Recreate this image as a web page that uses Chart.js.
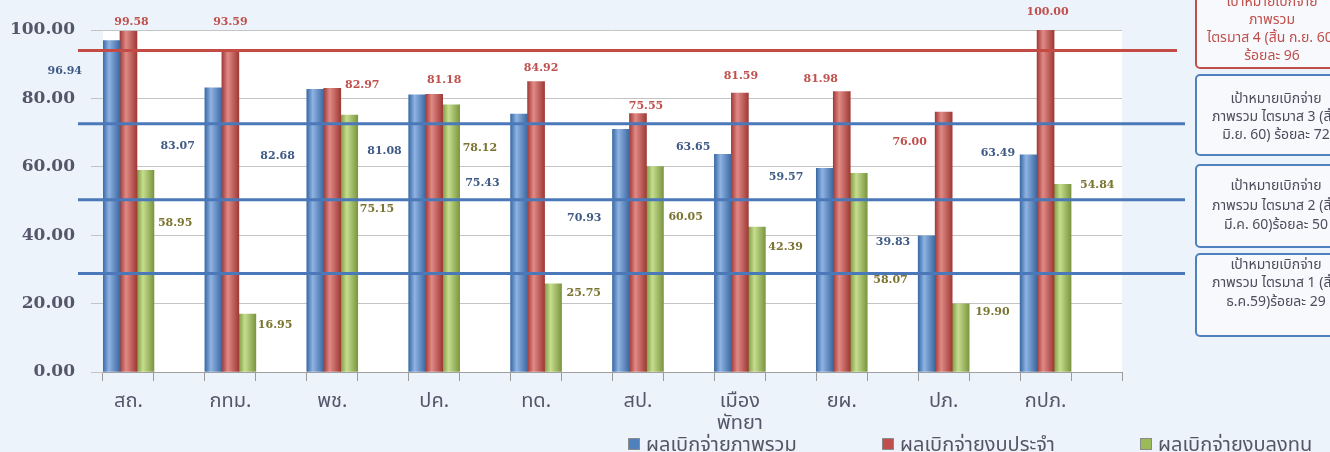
<!DOCTYPE html>
<html>
<head>
<meta charset="utf-8">
<script src="https://cdn.jsdelivr.net/npm/chart.js@4/dist/chart.umd.min.js"></script>
<style>
  html, body { margin: 0; padding: 0; background: #edf3fa; }
  #wrap { width: 1330px; height: 452px; }
</style>
</head>
<body>
<div id="wrap"><canvas id="chart" width="1330" height="452"></canvas></div>
<script>
const categories = ['สถ.', 'กทม.', 'พช.', 'ปค.', 'ทด.', 'สป.', ['เมือง', 'พัทยา'], 'ยผ.', 'ปภ.', 'กปภ.'];
const overallValues = [96.94, 83.07, 82.68, 81.08, 75.43, 70.93, 63.65, 59.57, 39.83, 63.49];
const regularValues = [99.58, 93.59, 82.97, 81.18, 84.92, 75.55, 81.59, 81.98, 76.00, 100.00];
const investValues = [58.95, 16.95, 75.15, 78.12, 25.75, 60.05, 42.39, 58.07, 19.90, 54.84];
const seriesNames = ['ผลเบิกจ่ายภาพรวม', 'ผลเบิกจ่ายงบประจำ', 'ผลเบิกจ่ายงบลงทุน'];
const targetValues = [94.0, 72.6, 50.4, 28.8];
const targetNotes = [
  ['เป้าหมายเบิกจ่าย', 'ภาพรวม', 'ไตรมาส 4 (สิ้น ก.ย. 60)', 'ร้อยละ 96'],
  ['เป้าหมายเบิกจ่าย', 'ภาพรวม ไตรมาส 3 (สิ้น', 'มิ.ย. 60) ร้อยละ 72'],
  ['เป้าหมายเบิกจ่าย', 'ภาพรวม ไตรมาส 2 (สิ้น', 'มี.ค. 60)ร้อยละ 50'],
  ['เป้าหมายเบิกจ่าย', 'ภาพรวม ไตรมาส 1 (สิ้น', 'ธ.ค.59)ร้อยละ 29']
];

const colors = ['#4f81bd', '#c0504d', '#9bbb59'];
const labelColors = ['#3f5a85', '#c0504d', '#7a7430'];
const thaiFont = "'Noto Sans Thai', 'Tahoma', 'DejaVu Sans', sans-serif";
const numFont = "'DejaVu Serif', 'Liberation Serif', serif";

// where the value labels sit next to their bars (scan has them moved around by hand)
const labelShift = [
  { dx: [-21, -10, -12, -7, -11, -11, -4, -13, -8, -5], dy: [31, 58, 67, 56, 69, 89, -7, 9, 6, -2] },
  { dx: [3, 0, 30, 10, 5, 8, 1, -21, -34, 2], dy: [-9, -30, -3, -14, -13, -7, -17, -12, 30, -18] },
  { dx: [4, 2, 2, 3, 5, 5, 3, 6, 6, 9], dy: [53, 11, 94, 43, 9, 51, 20, 107, 8, 1] }
];

// every category is followed by an empty slot, like the original sheet
const slotLabels = categories.flatMap(c => [c, '']);
const spread = arr => arr.flatMap(v => [v, null]);

function barFill(i) {
  return (ctx) => {
    const xs = ctx.chart.scales.x;
    if (!xs || !ctx.chart.chartArea || ctx.type !== 'data') return colors[i];
    const band = xs.getPixelForValue(1) - xs.getPixelForValue(0);
    const left = xs.getPixelForValue(ctx.dataIndex) - band / 2 + i * band / 3;
    const g = ctx.chart.ctx.createLinearGradient(left, 0, left + band / 3, 0);
    const shades = [
      ['#3a6aa5', '#8fb3e3', '#3c68a0'],
      ['#a33b38', '#e08a86', '#9f3a36'],
      ['#7f9c42', '#c6dd8e', '#7b9640']
    ][i];
    g.addColorStop(0, shades[0]);
    g.addColorStop(0.35, shades[1]);
    g.addColorStop(1, shades[2]);
    return g;
  };
}

const decorations = {
  id: 'decorations',
  beforeDraw(chart) {
    const { ctx, chartArea: a } = chart;
    ctx.save();
    ctx.fillStyle = '#edf3fa';
    ctx.fillRect(0, 0, chart.width, chart.height);
    ctx.fillStyle = '#ffffff';
    ctx.fillRect(a.left, a.top, a.right - a.left, a.bottom - a.top);
    ctx.restore();
  },
  afterDatasetsDraw(chart) {
    const { ctx, chartArea: a, scales: { y } } = chart;
    ctx.save();
    // target lines
    targetValues.forEach((v, k) => {
      const py = y.getPixelForValue(v);
      ctx.strokeStyle = k === 0 ? '#c44a45' : '#4a78b8';
      ctx.lineWidth = 3;
      ctx.beginPath();
      ctx.moveTo(a.left - 25, py);
      ctx.lineTo(a.right + (k === 0 ? 55 : 63), py);
      ctx.stroke();
    });

    // value labels
    ctx.font = 'bold 11px ' + numFont;
    ctx.textBaseline = 'middle';
    chart.data.datasets.forEach((ds, i) => {
      const meta = chart.getDatasetMeta(i);
      meta.data.forEach((bar, j) => {
        const v = ds.data[j];
        if (v === null || v === undefined) return;
        const k = j / 2;
        const w = bar.width;
        const txt = v.toFixed(2);
        ctx.fillStyle = labelColors[i];
        const dx = labelShift[i].dx[k], dy = labelShift[i].dy[k];
        if (i === 0) {
          ctx.textAlign = 'right';
          ctx.fillText(txt, bar.x - w / 2 + dx, bar.y + dy);
        } else if (i === 1) {
          ctx.textAlign = 'center';
          ctx.fillText(txt, bar.x + dx, bar.y + dy);
        } else {
          ctx.textAlign = 'left';
          ctx.fillText(txt, bar.x + w / 2 + dx, bar.y + dy);
        }
      });
    });
    ctx.restore();
  },
  afterDraw(chart) {
    const { ctx } = chart;
    ctx.save();
    // note boxes on the right
    const boxes = [
      { y: -10, h: 78, c: '#c0504d', t: '#c0504d', cx: 1272, ly: [3, 21, 39, 57] },
      { y: 75, h: 80, c: '#4f81bd', t: '#4d4d5c', cx: 1276, ly: [100, 118, 136] },
      { y: 165, h: 82, c: '#4f81bd', t: '#4d4d5c', cx: 1276, ly: [187, 207, 226] },
      { y: 254, h: 82, c: '#4f81bd', t: '#4d4d5c', cx: 1276, ly: [266, 284, 303] }
    ];
    boxes.forEach((b, k) => {
      ctx.fillStyle = '#f7f9fc';
      ctx.strokeStyle = b.c;
      ctx.lineWidth = 2;
      ctx.beginPath();
      ctx.roundRect(1196, b.y, 200, b.h, 4);
      ctx.fill();
      ctx.stroke();
      ctx.fillStyle = b.t;
      ctx.font = '14px ' + thaiFont;
      ctx.textAlign = 'center';
      ctx.textBaseline = 'middle';
      targetNotes[k].forEach((line, n) => ctx.fillText(line, b.cx, b.ly[n]));
    });

    // legend along the bottom edge
    const lx = [628, 882, 1140];
    ctx.font = '20px ' + thaiFont;
    ctx.textAlign = 'left';
    ctx.textBaseline = 'middle';
    seriesNames.forEach((name, i) => {
      ctx.fillStyle = colors[i];
      ctx.fillRect(lx[i], 438, 12, 12);
      ctx.strokeStyle = '#8a8a8a';
      ctx.lineWidth = 1;
      ctx.strokeRect(lx[i] + 0.5, 438.5, 11, 11);
      ctx.fillStyle = '#555566';
      ctx.fillText(name, lx[i] + 18, 447);
    });
    ctx.restore();
  }
};

new Chart(document.getElementById('chart'), {
  type: 'bar',
  data: {
    labels: slotLabels,
    datasets: [
      { label: seriesNames[0], data: spread(overallValues), backgroundColor: barFill(0) },
      { label: seriesNames[1], data: spread(regularValues), backgroundColor: barFill(1) },
      { label: seriesNames[2], data: spread(investValues), backgroundColor: barFill(2) }
    ]
  },
  options: {
    responsive: false,
    animation: false,
    layout: { padding: { top: 30, right: 208, bottom: 0, left: 0 } },
    datasets: { bar: { categoryPercentage: 1.0, barPercentage: 1.0, skipNull: false } },
    plugins: {
      legend: { display: false },
      tooltip: { enabled: false }
    },
    scales: {
      x: {
        offset: true,
        grid: { display: true, drawOnChartArea: false, drawTicks: true, tickLength: 9, color: '#9a9a9a', offset: true },
        border: { color: '#a0a0a0' },
        ticks: {
          autoSkip: false, maxRotation: 0, minRotation: 0, padding: 11,
          color: '#56566a', font: { family: thaiFont, size: 20, lineHeight: 1.1 }
        },
        afterFit: (s) => { s.height = 80; }
      },
      y: {
        min: 0, max: 100,
        ticks: {
          stepSize: 20, padding: 16, color: '#56566a',
          font: { family: numFont, size: 17, weight: 'bold' },
          callback: (v) => Number(v).toFixed(2)
        },
        grid: { color: '#c4c4c4', tickLength: 12 },
        border: { display: false },
        afterFit: (s) => { s.height; s.width = 103; }
      }
    }
  },
  plugins: [decorations]
});
</script>
</body>
</html>
